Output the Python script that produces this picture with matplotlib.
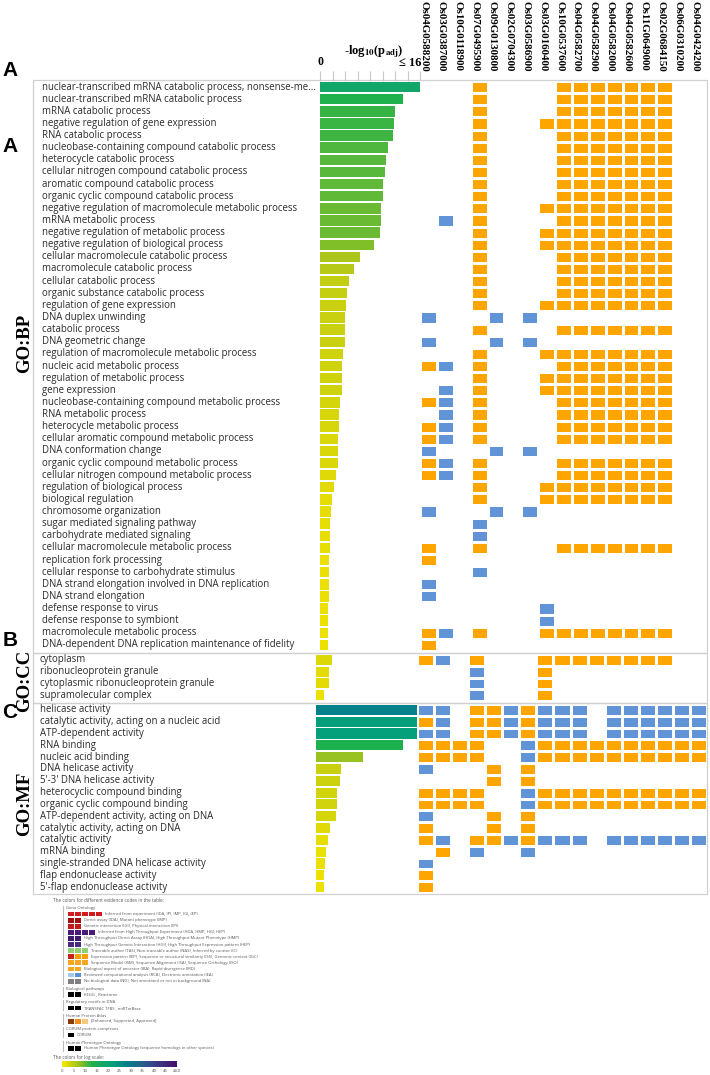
import numpy as np
import matplotlib
matplotlib.use("Agg")
import matplotlib.pyplot as plt
from matplotlib.colors import LinearSegmentedColormap, ListedColormap, Normalize
from matplotlib.patches import Rectangle
from matplotlib.transforms import blended_transform_factory

plt.rcParams['mathtext.fontset'] = 'stix'

# ---------------- data ----------------
genes = ['Os04G0588200', 'Os03G0387000', 'Os10G0118900', 'Os07G0495900', 'Os09G0130800',
         'Os02G0704300', 'Os03G0586900', 'Os03G0160400', 'Os10G0537600', 'Os04G0582700',
         'Os04G0582900', 'Os04G0582000', 'Os04G0582600', 'Os11G0649000', 'Os02G0684150',
         'Os06G0310200', 'Os04G0424200']

bp_terms = [
    'nuclear-transcribed mRNA catabolic process, nonsense-me...',
    'nuclear-transcribed mRNA catabolic process',
    'mRNA catabolic process',
    'negative regulation of gene expression',
    'RNA catabolic process',
    'nucleobase-containing compound catabolic process',
    'heterocycle catabolic process',
    'cellular nitrogen compound catabolic process',
    'aromatic compound catabolic process',
    'organic cyclic compound catabolic process',
    'negative regulation of macromolecule metabolic process',
    'mRNA metabolic process',
    'negative regulation of metabolic process',
    'negative regulation of biological process',
    'cellular macromolecule catabolic process',
    'macromolecule catabolic process',
    'cellular catabolic process',
    'organic substance catabolic process',
    'regulation of gene expression',
    'DNA duplex unwinding',
    'catabolic process',
    'DNA geometric change',
    'regulation of macromolecule metabolic process',
    'nucleic acid metabolic process',
    'regulation of metabolic process',
    'gene expression',
    'nucleobase-containing compound metabolic process',
    'RNA metabolic process',
    'heterocycle metabolic process',
    'cellular aromatic compound metabolic process',
    'DNA conformation change',
    'organic cyclic compound metabolic process',
    'cellular nitrogen compound metabolic process',
    'regulation of biological process',
    'biological regulation',
    'chromosome organization',
    'sugar mediated signaling pathway',
    'carbohydrate mediated signaling',
    'cellular macromolecule metabolic process',
    'replication fork processing',
    'cellular response to carbohydrate stimulus',
    'DNA strand elongation involved in DNA replication',
    'DNA strand elongation',
    'defense response to virus',
    'defense response to symbiont',
    'macromolecule metabolic process',
    'DNA-dependent DNA replication maintenance of fidelity',
]
bp_logp = [18, 13.2, 12.05, 11.8, 11.7, 10.9, 10.5, 10.45, 10.1, 10.1, 9.7, 9.7, 9.6, 8.6,
           6.35, 5.5, 4.64, 4.32, 4.1, 4.0, 3.95, 3.95, 3.68, 3.57, 3.52, 3.52, 3.2, 3.09,
           3.04, 2.88, 2.85, 2.85, 2.5, 2.24, 1.92, 1.76, 1.65, 1.65, 1.65, 1.49, 1.44,
           1.39, 1.39, 1.33, 1.28, 1.28, 1.28]
# '.' none, 'o' orange, 'b' blue
bp_cells = [
    '...o....ooooooo..', '...o....ooooooo..', '...o....ooooooo..', '...o...oooooooo..',
    '...o....ooooooo..', '...o....ooooooo..', '...o....ooooooo..', '...o....ooooooo..',
    '...o....ooooooo..', '...o....ooooooo..', '...o...oooooooo..', '.b.o....ooooooo..',
    '...o...oooooooo..', '...o...oooooooo..', '...o....ooooooo..', '...o....ooooooo..',
    '...o....ooooooo..', '...o....ooooooo..', '...o...oooooooo..', 'b...b.b..........',
    '...o....ooooooo..', 'b...b.b..........', '...o...oooooooo..', 'ob.o....ooooooo..',
    '...o...oooooooo..', '.b.o...oooooooo..', 'ob.o....ooooooo..', '.b.o....ooooooo..',
    'ob.o....ooooooo..', 'ob.o....ooooooo..', 'b...b.b..........', 'ob.o....ooooooo..',
    'ob.o....ooooooo..', '...o...oooooooo..', '...o...oooooooo..', 'b...b.b..........',
    '...b.............', '...b.............', 'o..o....ooooooo..', 'o................',
    '...b.............', 'b................', 'b................', '.......b.........',
    '.......b.........', 'ob.o...oooooooo..', 'o................',
]

cc_terms = ['cytoplasm', 'ribonucleoprotein granule',
            'cytoplasmic ribonucleoprotein granule', 'supramolecular complex']
cc_logp = [2.6, 2.06, 2.06, 1.27]
cc_cells = ['ob.o...oooooooo..', '...b...o.........', '...b...o.........', '...b...o.........']

mf_terms = [
    'helicase activity',
    'catalytic activity, acting on a nucleic acid',
    'ATP-dependent activity',
    'RNA binding',
    'nucleic acid binding',
    'DNA helicase activity',
    "5'-3' DNA helicase activity",
    'heterocyclic compound binding',
    'organic cyclic compound binding',
    'ATP-dependent activity, acting on DNA',
    'catalytic activity, acting on DNA',
    'catalytic activity',
    'mRNA binding',
    'single-stranded DNA helicase activity',
    'flap endonuclease activity',
    "5'-flap endonuclease activity",
]
mf_logp = [28, 22, 22, 13.8, 7.5, 3.96, 3.8, 3.38, 3.38, 3.17, 2.2, 1.9, 1.53, 1.37, 1.27, 1.27]
mf_cells = [
    'bb.oobobbb.bbbbbb', 'ob.oobobbb.bbbbbb', 'bb.oobobbb.bbbbbb', 'oooo..boooooooooo',
    'oooo..boooooooooo', 'b...o.o..........', '....o.o..........', 'oooo..boooooooooo',
    'oooo..boooooooooo', 'b...o.o..........', 'o...o.o..........', 'ob.oobobbb.bbbbbb',
    '.o.b..b..........', 'b................', 'o................', 'o................',
]

# legend content
go_legend = [
    (['#d01c1c'] * 5, 'Inferred from experiment (IDA, IPI, IMP, IGI, IEP)'),
    (['#a01010'] * 2, 'Direct assay (IDA), Mutant phenotype (IMP)'),
    (['#c41a1a'] * 2, 'Genetic interaction (IGI), Physical interaction (IPI)'),
    (['#4a1a7a'] * 4, 'Inferred from High Throughput Experiment (HDA, HMP, HGI, HEP)'),
    (['#3d1a6e'] * 2, 'High Throughput Direct Assay (HDA), High Throughput Mutant Phenotype (HMP)'),
    (['#4a2a80'] * 2, 'High Throughput Genetic Interaction (HGI), High Throughput Expression pattern (HEP)'),
    (['#90d07a'] * 3, 'Traceable author (TAS), Non-traceable author (NAS), Inferred by curator (IC)'),
    (['#c8201a', '#f5a000', '#f5a000'], 'Expression pattern (IEP), Sequence or structural similarity (ISS), Genomic context (IGC)'),
    (['#f5a623'] * 3, 'Sequence Model (ISM), Sequence Alignment (ISA), Sequence Orthology (ISO)'),
    (['#f5a623'] * 2, 'Biological aspect of ancestor (IBA), Rapid divergence (IRD)'),
    (['#a8c8e8', '#5b8fd6'], 'Reviewed computational analysis (RCA), Electronic annotation (IEA)'),
    (['#808080'] * 2, 'No biological data (ND), Not annotated or not in background (NA)'),
]
other_legend = [
    ('Biological pathways', ['#000000'] * 2, 'KEGG , Reactome'),
    ('Regulatory motifs in DNA', ['#000000'] * 2, 'TRANSFAC TFBS , miRTarBase'),
    ('Human Protein Atlas', ['#8b3a0a', '#f09020', '#f8c880'], '[Enhanced, Supported, Approved]'),
    ('CORUM protein complexes', ['#000000'], 'CORUM'),
    ('Human Phenotype Ontology', ['#000000'] * 2, 'Human Phenotype Ontology (sequence homologs in other species)'),
]
scale_ticks = [0, 5, 10, 15, 20, 25, 30, 35, 40, 45, 50]
scale_labels = ['0', '5', '10', '15', '20', '25', '30', '35', '40', '45', '≥50']

# ---------------- styling ----------------
W, H = 710, 1075
ORANGE = '#ffa500'
BLUE = '#6194d6'
GRID = '#d5d5d5'
cmap = LinearSegmentedColormap.from_list('logp', [
    (0 / 50, '#f7ea00'), (2 / 50, '#e4db05'), (4 / 50, '#c8d010'), (6.5 / 50, '#a8c51a'),
    (8.5 / 50, '#84bf28'), (10.5 / 50, '#55b83c'), (13 / 50, '#1fb24b'), (18 / 50, '#12a768'),
    (22 / 50, '#03a07b'), (28 / 50, '#04818a'), (35 / 50, '#2a5f8e'), (42 / 50, '#3d3885'),
    (1.0, '#44106a')])
norm = Normalize(0, 50)
cell_cmap = ListedColormap(['white', ORANGE, BLUE])
code = {'.': 0, 'o': 1, 'b': 2}

fig = plt.figure(figsize=(W / 100, H / 100), dpi=100)


def px_axes(x0, y0, x1, y1):
    return fig.add_axes([x0 / W, 1 - y1 / H, (x1 - x0) / W, (y1 - y0) / H])


def ftext(x, y, s, **kw):
    return fig.text(x / W, 1 - y / H, s, **kw)


def section(terms, logp, cells, top, bottom, bar_x0, bar_x1, grid_x1, label_x, ticks=False):
    n = len(terms)
    axb = px_axes(bar_x0, top, bar_x1, bottom)
    vals = np.array(logp, dtype=float)
    axb.barh(np.arange(n), np.minimum(vals, 16), height=0.86, color=cmap(norm(vals)))
    axb.set_xlim(0, 16)
    axb.set_ylim(n - 0.5, -0.5)
    for sp in axb.spines.values():
        sp.set_visible(False)
    axb.set_yticks([])
    if ticks:
        axb.xaxis.set_ticks_position('top')
        axb.set_xticks(np.arange(0, 17, 2))
        axb.set_xticklabels([])
        axb.tick_params(axis='x', length=7, color='#c8c8c8', width=0.8)
    else:
        axb.set_xticks([])
    tr = blended_transform_factory(fig.transFigure, axb.transData)
    for i, t in enumerate(terms):
        axb.text(label_x / W, i, t, transform=tr, ha='left', va='center',
                 fontsize=6.9, family='Open Sans', color='#2b2b2b')

    axg = px_axes(bar_x1, top, grid_x1, bottom)
    m = np.array([[code[c] for c in row] for row in cells])
    axg.pcolormesh(np.zeros_like(m), cmap=ListedColormap(['white']), edgecolors=GRID, linewidth=0.8)
    axg.pcolormesh(np.ma.masked_equal(m, 0), cmap=cell_cmap, vmin=0, vmax=2,
                   edgecolors='white', linewidth=0.9)
    axg.set_xlim(0, m.shape[1])
    axg.set_ylim(n, 0)
    axg.axis('off')


BOX_L, GRID_R = 33, 707
section(bp_terms, bp_logp, bp_cells, 81, 651, 320, 420, GRID_R, 42, ticks=True)
section(cc_terms, cc_logp, cc_cells, 654, 701, 316, 417, GRID_R, 40)
section(mf_terms, mf_logp, mf_cells, 704, 893, 316, 417, GRID_R, 40)

# frames around the sections
for (y0, y1) in [(80, 652.5), (652.5, 702.5), (702.5, 893.5)]:
    fig.add_artist(Rectangle((BOX_L / W, 1 - y1 / H), (GRID_R - BOX_L) / W, (y1 - y0) / H,
                             transform=fig.transFigure, fill=False, edgecolor='#d0d0d0', lw=0.9))

# column headers
colw = (GRID_R - 420) / len(genes)
for j, g in enumerate(genes):
    ftext(420 + (j + 0.5) * colw - 4, 1, g, rotation=270, ha='center', va='top',
          fontsize=7.9, fontweight='bold', family='Liberation Serif')

# axis title
ftext(320, 62, '0', ha='center', va='center', fontsize=8.5, fontweight='bold', family='Liberation Serif')
ftext(374, 52, r'-log$_{\mathbf{10}}$(p$_{\mathbf{adj}}$)', ha='center', va='center',
      fontsize=9, fontweight='bold', family='Liberation Serif')
ftext(421, 63, '≤ 16', ha='right', va='center', fontsize=9, fontweight='bold',
      family=['Liberation Serif', 'DejaVu Serif'])

# panel letters and section names
for letter, y in [('A', 71), ('A', 146), ('B', 640), ('C', 712)]:
    ftext(10, y, letter, ha='center', va='center', fontsize=15, fontweight='bold', family='Liberation Sans')
for name, y in [('GO:BP', 343), ('GO:CC', 681), ('GO:MF', 804)]:
    ftext(25, y, name, rotation=90, ha='center', va='center', fontsize=13.5, fontweight='bold',
          family='Liberation Serif')

# ---------------- legend ----------------
axl = px_axes(0, 895, W, H)
axl.set_xlim(0, W)
axl.set_ylim(H, 895)
axl.axis('off')
lfs = 3.0
lcol = '#555555'
axl.text(53, 901, 'The colors for different evidence codes in the table:', fontsize=lfs + 0.3,
         color=lcol, va='center', family='Open Sans')
axl.text(66, 908, 'Gene Ontology', fontsize=lfs, color=lcol, va='center', family='Open Sans')
sq_w, sq_h, y = 7.0, 4.8, 914
for colors, txt in go_legend:
    for k, c in enumerate(colors):
        axl.add_patch(Rectangle((68 + k * sq_w, y - sq_h / 2), sq_w - 0.8, sq_h, color=c, lw=0))
    axl.text(68 + len(colors) * sq_w + 2, y, txt, fontsize=lfs, color=lcol, va='center', family='Open Sans')
    y += 6.1
axl.plot([63, 63], [906, y - 3], color='#bbbbbb', lw=0.8)
y += 1.5
for head, colors, txt in other_legend:
    axl.text(66, y, head, fontsize=lfs, color=lcol, va='center', family='Open Sans')
    axl.plot([63, 63], [y - 2, y + 8], color='#bbbbbb', lw=0.8)
    yy = y + 5.7
    for k, c in enumerate(colors):
        axl.add_patch(Rectangle((68 + k * sq_w, yy - sq_h / 2), sq_w - 0.8, sq_h, color=c, lw=0))
    axl.text(68 + len(colors) * sq_w + 2, yy, txt, fontsize=lfs, color=lcol, va='center', family='Open Sans')
    y += 13.5
axl.text(53, 1057, 'The colors for log scale:', fontsize=lfs + 0.3, color=lcol, va='center', family='Open Sans')

axc = px_axes(62, 1061, 177, 1067)
axc.imshow(np.linspace(0, 50, 256)[None, :], cmap=cmap, norm=norm, aspect='auto', extent=[0, 50, 0, 1])
axc.set_yticks([])
axc.set_xticks(scale_ticks)
axc.set_xticklabels(scale_labels, fontsize=2.8, color=lcol)
axc.tick_params(axis='x', length=0, pad=1.5)
for sp in axc.spines.values():
    sp.set_visible(False)

fig.savefig('out.png', dpi=100)
